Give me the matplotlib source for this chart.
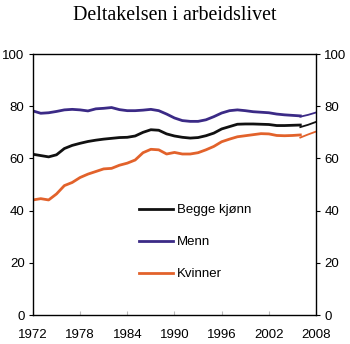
import numpy as np
import matplotlib.pyplot as plt

# Arbeidsstyrke i prosent av befolkningen, årstall 1972-2006 (gammel serie)
years = list(range(1972, 2007))
begge = [61.6, 61.1, 60.6, 61.4, 63.8, 65.0, 65.8, 66.5, 67.0, 67.4,
         67.7, 68.0, 68.1, 68.6, 70.0, 71.0, 70.8, 69.4, 68.6, 68.1,
         67.8, 68.0, 68.7, 69.7, 71.3, 72.2, 73.1, 73.2, 73.2, 73.1,
         73.0, 72.6, 72.6, 72.7, 72.8]
menn = [78.2, 77.3, 77.5, 78.0, 78.6, 78.8, 78.6, 78.2, 79.0, 79.2,
        79.5, 78.7, 78.3, 78.3, 78.5, 78.8, 78.3, 77.0, 75.5, 74.5,
        74.2, 74.2, 74.8, 76.0, 77.4, 78.3, 78.6, 78.3, 77.9, 77.7,
        77.5, 77.0, 76.7, 76.5, 76.3]
kvinner = [44.1, 44.6, 44.1, 46.4, 49.6, 50.8, 52.7, 54.0, 55.0, 56.0,
           56.2, 57.4, 58.2, 59.4, 62.2, 63.5, 63.3, 61.7, 62.3, 61.7,
           61.7, 62.2, 63.3, 64.6, 66.4, 67.4, 68.3, 68.7, 69.1, 69.5,
           69.4, 68.8, 68.7, 68.8, 69.0]

# ny serie fra 2006
years_ny = [2006, 2007, 2008]
begge_ny = [72.0, 72.9, 74.0]
menn_ny = [76.0, 76.7, 77.6]
kvinner_ny = [68.0, 69.2, 70.3]

xticks = [1972, 1978, 1984, 1990, 1996, 2002, 2008]
yticks = [0, 20, 40, 60, 80, 100]

c_begge = '#111111'
c_menn = '#3b2a86'
c_kvinner = '#e2622b'

plt.rcParams['font.family'] = 'Liberation Sans'
plt.rcParams['font.size'] = 9.5

fig = plt.figure(figsize=(3.5, 3.44), dpi=100)
ax = fig.add_axes([0.094, 0.084, 0.809, 0.759])

ax.plot(years, begge, color=c_begge, lw=2.0, label='Begge kjønn')
ax.plot(years, menn, color=c_menn, lw=2.0, label='Menn')
ax.plot(years, kvinner, color=c_kvinner, lw=2.0, label='Kvinner')
ax.plot(years_ny, begge_ny, color=c_begge, lw=1.3)
ax.plot(years_ny, menn_ny, color=c_menn, lw=1.3)
ax.plot(years_ny, kvinner_ny, color=c_kvinner, lw=1.3)

ax.set_xlim(1972, 2008)
ax.set_ylim(0, 100)
ax.set_xticks(xticks)
ax.set_yticks(yticks)
ax.tick_params(axis='x', direction='in', length=3, color='#bbbbbb', pad=10)
ax.tick_params(axis='y', direction='out', length=3, right=True, labelright=True, pad=3)
for s in ax.spines.values():
    s.set_linewidth(1.0)

ax.legend(loc='upper left', bbox_to_anchor=(0.35, 0.45), frameon=False,
          handlelength=2.6, handletextpad=0.3, labelspacing=1.5,
          borderpad=0, fontsize=9.5)

fig.text(0.5, 0.955, 'Deltakelsen i arbeidslivet', ha='center', va='center',
         family='Liberation Serif', fontsize=14.4)

fig.savefig('out.png', dpi=100)
